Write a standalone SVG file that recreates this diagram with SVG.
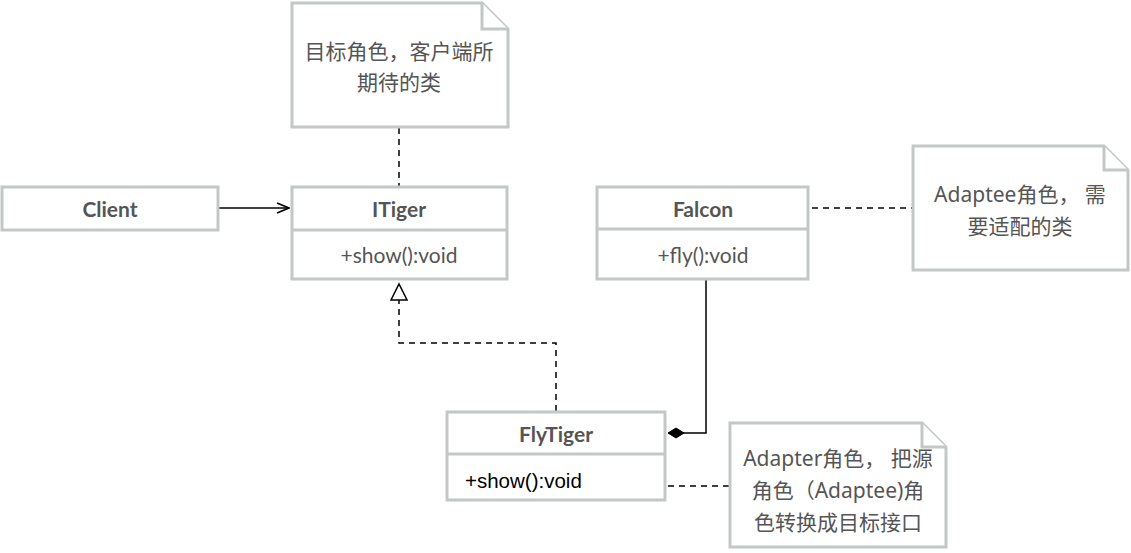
<svg xmlns="http://www.w3.org/2000/svg" width="1131" height="553" viewBox="0 0 1131 553">
<defs>
<style>
.box{fill:#fff;stroke:#c3c7c7;stroke-width:3}
.name{font-family:Lato,"Liberation Sans",sans-serif;font-weight:bold;font-size:21px;fill:#555;text-anchor:middle;dominant-baseline:central}
.meth{font-family:Lato,"Liberation Sans",sans-serif;font-size:21px;fill:#555;text-anchor:middle;dominant-baseline:central}
.note{font-family:"Noto Sans","Noto Sans CJK SC",sans-serif;font-size:21px;fill:#555;text-anchor:middle;dominant-baseline:central}
.line{fill:none;stroke:#000;stroke-width:1.5}
.dash{fill:none;stroke:#000;stroke-width:1.5;stroke-dasharray:6 5}
</style>
<marker id="open" markerWidth="14" markerHeight="12" refX="13" refY="6" orient="auto" markerUnits="userSpaceOnUse">
<path d="M1,1 L13,6 L1,11" fill="none" stroke="#000" stroke-width="1.5"/>
</marker>
<marker id="tri" markerWidth="22" markerHeight="18" refX="17" refY="9" orient="auto" markerUnits="userSpaceOnUse">
<path d="M1,1 L17,9 L1,17 Z" fill="#fff" stroke="#000" stroke-width="1.5"/>
</marker>
<marker id="dia" markerWidth="20" markerHeight="14" refX="17" refY="7" orient="auto" markerUnits="userSpaceOnUse">
<path d="M1,7 L9,2 L17,7 L9,12 Z" fill="#000" stroke="#000" stroke-width="1"/>
</marker>
</defs>

<g id="connectors">
<path class="dash" d="M399,128 L399,186"/>
<path class="line" d="M219,208 L289,208" marker-end="url(#open)"/>
<path class="dash" d="M556,411 L556,343 L399,343 L399,284" marker-end="url(#tri)"/>
<path class="line" d="M706,280 L706,433 L668,433" marker-end="url(#dia)"/>
<path class="dash" d="M812,208 L912,208"/>
<path class="dash" d="M668,486 L730,486"/>
</g>

<g id="note-target">
<path class="box" d="M292,3 L482,3 L508,29 L508,127 L292,127 Z"/>
<path class="box" d="M482,3 L482,29 L508,29" fill="none"/>
<text class="note" x="399" y="51">目标角色，客户端所</text>
<text class="note" x="399" y="82">期待的类</text>
</g>

<g id="client">
<rect class="box" x="2" y="187" width="216" height="43"/>
<text class="name" x="110" y="208">Client</text>
</g>

<g id="itiger">
<rect class="box" x="292" y="187" width="215" height="92"/>
<line class="box" x1="292" y1="230" x2="507" y2="230"/>
<text class="name" x="399" y="208">ITiger</text>
<text class="meth" x="399" y="254">+show():void</text>
</g>

<g id="falcon">
<rect class="box" x="597" y="187" width="211" height="92"/>
<line class="box" x1="597" y1="229" x2="808" y2="229"/>
<text class="name" x="703" y="208">Falcon</text>
<text class="meth" x="703" y="254">+fly():void</text>
</g>

<g id="note-adaptee">
<path class="box" d="M913,146 L1104,146 L1128,170 L1128,270 L913,270 Z"/>
<path class="box" d="M1104,146 L1104,170 L1128,170" fill="none"/>
<text class="note" x="1020" y="194">Adaptee角色， 需</text>
<text class="note" x="1020" y="226">要适配的类</text>
</g>

<g id="flytiger">
<rect class="box" x="447" y="412" width="218" height="88"/>
<line class="box" x1="447" y1="454" x2="665" y2="454"/>
<text class="name" x="556" y="433">FlyTiger</text>
<text x="465" y="480" font-family="'Liberation Sans',Arial,sans-serif" font-size="20.5" fill="#000" dominant-baseline="central">+show():void</text>
</g>

<g id="note-adapter">
<path class="box" d="M730,423 L922,423 L946,447 L946,547 L730,547 Z"/>
<path class="box" d="M922,423 L922,447 L946,447" fill="none"/>
<text class="note" x="838" y="458">Adapter角色， 把源</text>
<text class="note" x="838" y="490">角色（Adaptee)角</text>
<text class="note" x="838" y="522">色转换成目标接口</text>
</g>
</svg>
